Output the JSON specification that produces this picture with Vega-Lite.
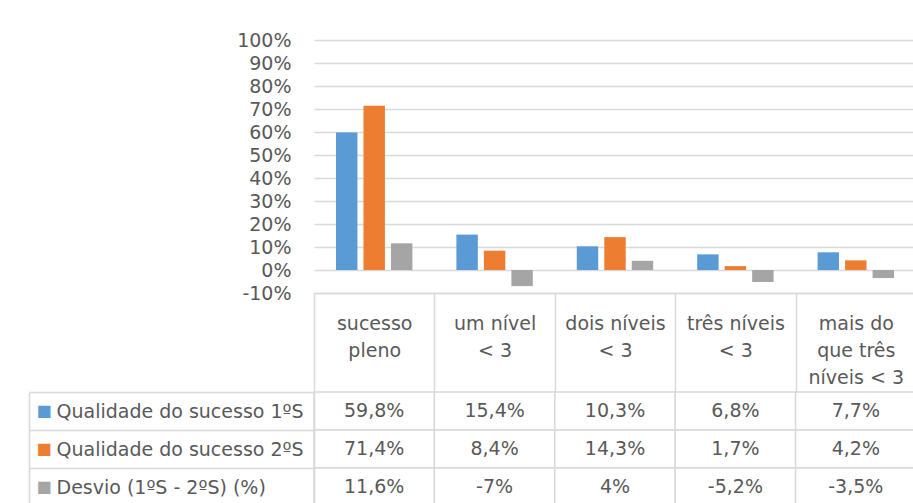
{
  "$schema": "https://vega.github.io/schema/vega-lite/v6.json",
  "padding": {"left": 28, "top": 31, "right": 0, "bottom": 0},
  "background": "white",
  "spacing": -10,
  "config": {
    "view": {"stroke": null},
    "font": "DejaVu Sans",
    "axis": {"labelColor": "#595959", "labelFont": "DejaVu Sans"}
  },
  "data": {
    "values": [
      {"cat": "sucesso\npleno", "serie": "Qualidade do sucesso 1ºS", "value": 0.598, "label": "59,8%"},
      {"cat": "sucesso\npleno", "serie": "Qualidade do sucesso 2ºS", "value": 0.714, "label": "71,4%"},
      {"cat": "sucesso\npleno", "serie": "Desvio (1ºS - 2ºS) (%)", "value": 0.116, "label": "11,6%"},
      {"cat": "um nível\n< 3", "serie": "Qualidade do sucesso 1ºS", "value": 0.154, "label": "15,4%"},
      {"cat": "um nível\n< 3", "serie": "Qualidade do sucesso 2ºS", "value": 0.084, "label": "8,4%"},
      {"cat": "um nível\n< 3", "serie": "Desvio (1ºS - 2ºS) (%)", "value": -0.07, "label": "-7%"},
      {"cat": "dois níveis\n< 3", "serie": "Qualidade do sucesso 1ºS", "value": 0.103, "label": "10,3%"},
      {"cat": "dois níveis\n< 3", "serie": "Qualidade do sucesso 2ºS", "value": 0.143, "label": "14,3%"},
      {"cat": "dois níveis\n< 3", "serie": "Desvio (1ºS - 2ºS) (%)", "value": 0.04, "label": "4%"},
      {"cat": "três níveis\n< 3", "serie": "Qualidade do sucesso 1ºS", "value": 0.068, "label": "6,8%"},
      {"cat": "três níveis\n< 3", "serie": "Qualidade do sucesso 2ºS", "value": 0.017, "label": "1,7%"},
      {"cat": "três níveis\n< 3", "serie": "Desvio (1ºS - 2ºS) (%)", "value": -0.052, "label": "-5,2%"},
      {"cat": "mais do\nque três\nníveis < 3", "serie": "Qualidade do sucesso 1ºS", "value": 0.077, "label": "7,7%"},
      {"cat": "mais do\nque três\nníveis < 3", "serie": "Qualidade do sucesso 2ºS", "value": 0.042, "label": "4,2%"},
      {"cat": "mais do\nque três\nníveis < 3", "serie": "Desvio (1ºS - 2ºS) (%)", "value": -0.035, "label": "-3,5%"}
    ]
  },
  "vconcat": [
    {
      "width": 602,
      "height": 253,
      "mark": {"type": "bar"},
      "encoding": {
        "x": {
          "field": "cat", "type": "nominal", "sort": null,
          "scale": {"paddingInner": 0, "paddingOuter": 0},
          "axis": {
            "title": null, "labelAngle": 0, "domain": true, "domainColor": "#d9d9d9", "domainWidth": 1.5,
            "ticks": true, "tickBand": "extent", "tickSize": 98, "tickColor": "#d9d9d9", "tickWidth": 1.5,
            "labelExpr": "split(datum.label, '\\n')", "labelBaseline": "middle", "labelPadding": -68,
            "labelLineHeight": 27, "labelFontSize": 19, "labelLimit": 0
          }
        },
        "xOffset": {
          "field": "serie", "type": "nominal", "sort": null,
          "scale": {"paddingInner": 0.22, "paddingOuter": 0.8}
        },
        "y": {
          "field": "value", "type": "quantitative",
          "scale": {"domain": [-0.1, 1.0], "nice": false, "zero": false},
          "axis": {
            "title": null, "values": [-0.1, 0, 0.1, 0.2, 0.3, 0.4, 0.5, 0.6, 0.7, 0.8, 0.9, 1.0],
            "labelExpr": "round(datum.value * 100) + '%'", "domain": false, "ticks": false,
            "labelPadding": 23, "labelFontSize": 19,
            "grid": true, "gridColor": "#d9d9d9", "gridWidth": 1.5
          }
        },
        "color": {
          "field": "serie", "type": "nominal",
          "scale": {
            "domain": ["Qualidade do sucesso 1ºS", "Qualidade do sucesso 2ºS", "Desvio (1ºS - 2ºS) (%)"],
            "range": ["#5b9bd5", "#ed7d31", "#a5a5a5"]
          },
          "legend": null
        }
      }
    },
    {
      "width": 602,
      "height": 114,
      "layer": [
        {
          "mark": {"type": "rect", "fill": "white", "stroke": "#d9d9d9", "strokeWidth": 1.5},
          "encoding": {
            "x": {"field": "cat", "type": "nominal", "sort": null, "scale": {"paddingInner": 0, "paddingOuter": 0}, "axis": null},
            "y": {
              "field": "serie", "type": "nominal", "sort": null,
              "scale": {"paddingInner": 0, "paddingOuter": 0},
              "axis": {
                "orient": "left", "title": null, "domain": true, "domainColor": "#d9d9d9", "domainWidth": 1.5,
                "ticks": true, "tickBand": "extent", "tickSize": 285, "tickColor": "#d9d9d9", "tickWidth": 1.5,
                "labelAlign": "left", "labelPadding": -27, "labelFontSize": 19, "labelLimit": 0
              }
            }
          }
        },
        {
          "mark": {"type": "text", "fontSize": 19, "color": "#595959", "font": "DejaVu Sans"},
          "encoding": {
            "x": {"field": "cat", "type": "nominal", "sort": null, "axis": null},
            "y": {
              "field": "serie", "type": "nominal", "sort": null,
              "axis": {
                "orient": "left", "offset": 285, "title": null, "domain": true, "domainColor": "#d9d9d9", "domainWidth": 1.5,
                "ticks": false, "labelExpr": "'■'", "labelFont": "DejaVu Sans", "labelFontSize": 16,
                "labelAlign": "left", "labelPadding": -7,
                "labelColor": {
                  "condition": [
                    {"test": "datum.value === 'Qualidade do sucesso 1ºS'", "value": "#5b9bd5"},
                    {"test": "datum.value === 'Qualidade do sucesso 2ºS'", "value": "#ed7d31"}
                  ],
                  "value": "#a5a5a5"
                }
              }
            },
            "text": {"field": "label", "type": "nominal"}
          }
        }
      ],
      "resolve": {"axis": {"y": "independent"}}
    }
  ]
}
